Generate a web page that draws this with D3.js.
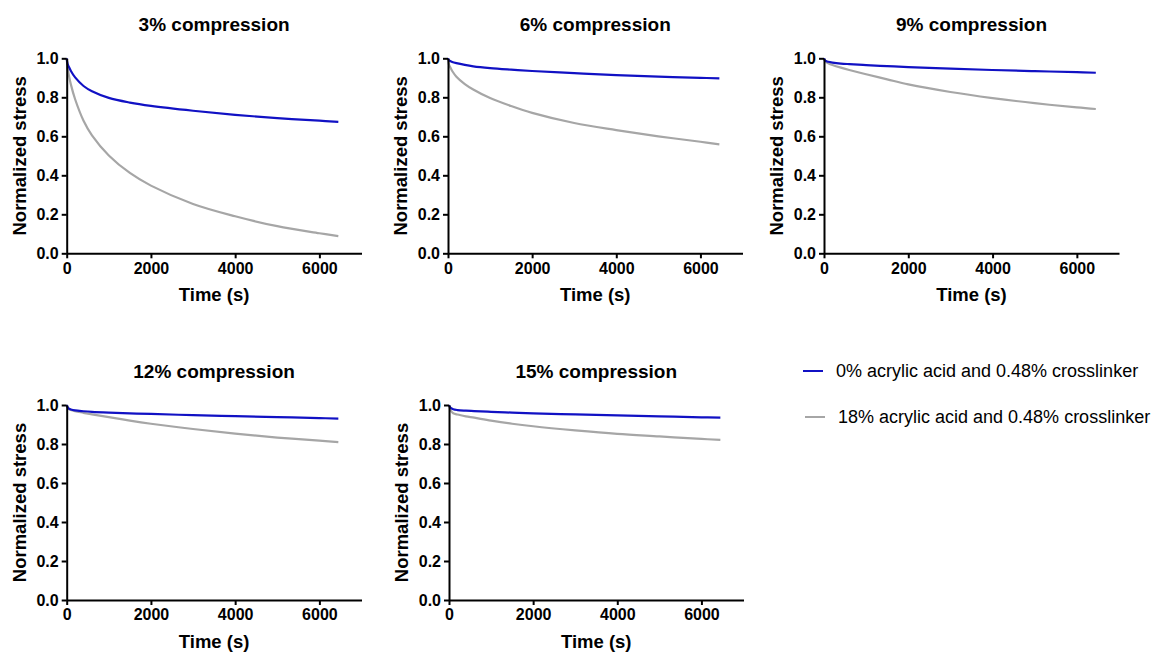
<!DOCTYPE html>
<html><head><meta charset="utf-8">
<script src="https://cdn.jsdelivr.net/npm/d3@7"></script>
<style>body{margin:0;background:#fff}svg{display:block;font-family:Arial,"Liberation Sans",sans-serif}</style>
</head><body><svg id="c" width="1161" height="652"></svg>
<script>
const times = [0, 20, 50, 100, 200, 400, 600, 1000, 1500, 2000, 3000, 4000, 5000, 6000, 6450];
const panelTitles = ["3% compression", "6% compression", "9% compression", "12% compression", "15% compression"];
const seriesNames = ["0% acrylic acid and 0.48% crosslinker", "18% acrylic acid and 0.48% crosslinker"];
const seriesColors = ["#1111c4", "#a6a6a6"];
const xTicks = [0, 2000, 4000, 6000];
const yTicks = [0, 0.2, 0.4, 0.6, 0.8, 1.0];

const blue3  = [1.0, 0.972, 0.957, 0.935, 0.902, 0.858, 0.831, 0.797, 0.773, 0.756, 0.731, 0.71, 0.693, 0.68, 0.674];
const grey3  = [1.0, 0.955, 0.915, 0.865, 0.79, 0.68, 0.605, 0.502, 0.412, 0.347, 0.253, 0.19, 0.139, 0.103, 0.088];
const blue6  = [1.0, 0.99, 0.986, 0.981, 0.975, 0.966, 0.959, 0.95, 0.942, 0.935, 0.924, 0.914, 0.906, 0.9, 0.897];
const grey6  = [1.0, 0.97, 0.955, 0.935, 0.906, 0.868, 0.84, 0.796, 0.755, 0.72, 0.668, 0.632, 0.6, 0.572, 0.559];
const blue9  = [1.0, 0.99, 0.986, 0.982, 0.978, 0.973, 0.97, 0.965, 0.96, 0.955, 0.947, 0.94, 0.934, 0.929, 0.926];
const grey9  = [1.0, 0.987, 0.981, 0.975, 0.966, 0.952, 0.94, 0.918, 0.892, 0.866, 0.827, 0.796, 0.77, 0.748, 0.74];
const blue12 = [1.0, 0.99, 0.982, 0.977, 0.972, 0.968, 0.965, 0.961, 0.957, 0.954, 0.948, 0.943, 0.938, 0.933, 0.93];
const grey12 = [1.0, 0.99, 0.98, 0.974, 0.968, 0.96, 0.952, 0.938, 0.92, 0.904, 0.877, 0.853, 0.833, 0.817, 0.81];
const blue15 = [1.0, 0.99, 0.984, 0.978, 0.974, 0.971, 0.969, 0.965, 0.961, 0.957, 0.952, 0.947, 0.942, 0.937, 0.935];
const grey15 = [1.0, 0.985, 0.968, 0.958, 0.951, 0.942, 0.935, 0.92, 0.904, 0.891, 0.87, 0.852, 0.839, 0.826, 0.821];

const panelData = [[blue3, grey3], [blue6, grey6], [blue9, grey9], [blue12, grey12], [blue15, grey15]];
const layout = [
  {x0: 66.7, x1: 361.5, y0: 58.3, y1: 253.3},
  {x0: 448, x1: 742.5, y0: 58.3, y1: 253.3},
  {x0: 824, x1: 1119, y0: 58.3, y1: 253.3},
  {x0: 66.7, x1: 361.5, y0: 405, y1: 600},
  {x0: 449, x1: 743.5, y0: 405, y1: 600}
];

const svg = d3.select("#c");
panelData.forEach((series, i) => {
  const L = layout[i];
  const x = d3.scaleLinear().domain([0, 7000]).range([L.x0, L.x1]);
  const y = d3.scaleLinear().domain([0, 1]).range([L.y1, L.y0]);
  const g = svg.append("g");
  const line = d3.line().x(d => x(d[0])).y(d => y(d[1])).curve(d3.curveCatmullRom.alpha(0.5));
  [1, 0].forEach(s => {
    g.append("path").datum(times.map((t, k) => [t, series[s][k]]))
      .attr("d", line).attr("fill", "none")
      .attr("stroke", seriesColors[s]).attr("stroke-width", 2.2);
  });
  const xa = g.append("g").attr("transform", `translate(0,${L.y1})`)
    .call(d3.axisBottom(x).tickValues(xTicks).tickFormat(d3.format("d")).tickSize(5).tickSizeOuter(0).tickPadding(4));
  const ya = g.append("g").attr("transform", `translate(${L.x0},0)`)
    .call(d3.axisLeft(y).tickValues(yTicks).tickFormat(d3.format(".1f")).tickSize(5).tickSizeOuter(0).tickPadding(3));
  [xa, ya].forEach(a => {
    a.select(".domain").attr("stroke", "#000").attr("stroke-width", 2);
    a.selectAll(".tick line").attr("stroke", "#000").attr("stroke-width", 2);
    a.selectAll(".tick text").attr("fill", "#000").style("font-size", "16px").style("font-weight", "bold")
      .style("font-family", "Arial, 'Liberation Sans', sans-serif");
  });
  g.append("text").attr("x", (L.x0 + L.x1) / 2).attr("y", L.y0 - 27)
    .attr("text-anchor", "middle").style("font-size", "19px").style("font-weight", "bold").text(panelTitles[i]);
  g.append("text").attr("x", (L.x0 + L.x1) / 2).attr("y", L.y1 + 48)
    .attr("text-anchor", "middle").style("font-size", "18.5px").style("font-weight", "bold").text("Time (s)");
  g.append("text").attr("transform", `translate(${L.x0 - 41},${(L.y0 + L.y1) / 2}) rotate(-90)`)
    .attr("text-anchor", "middle").style("font-size", "18.5px").style("font-weight", "bold").text("Normalized stress");
});

const legY = [371, 417];
seriesNames.forEach((n, i) => {
  const lx = 803 + i * 2;
  svg.append("line").attr("x1", lx).attr("x2", lx + 20).attr("y1", legY[i]).attr("y2", legY[i])
    .attr("stroke", seriesColors[i]).attr("stroke-width", 2);
  svg.append("text").attr("x", lx + 33).attr("y", legY[i] + 6).style("font-size", "18px").text(n);
});
</script></body></html>
